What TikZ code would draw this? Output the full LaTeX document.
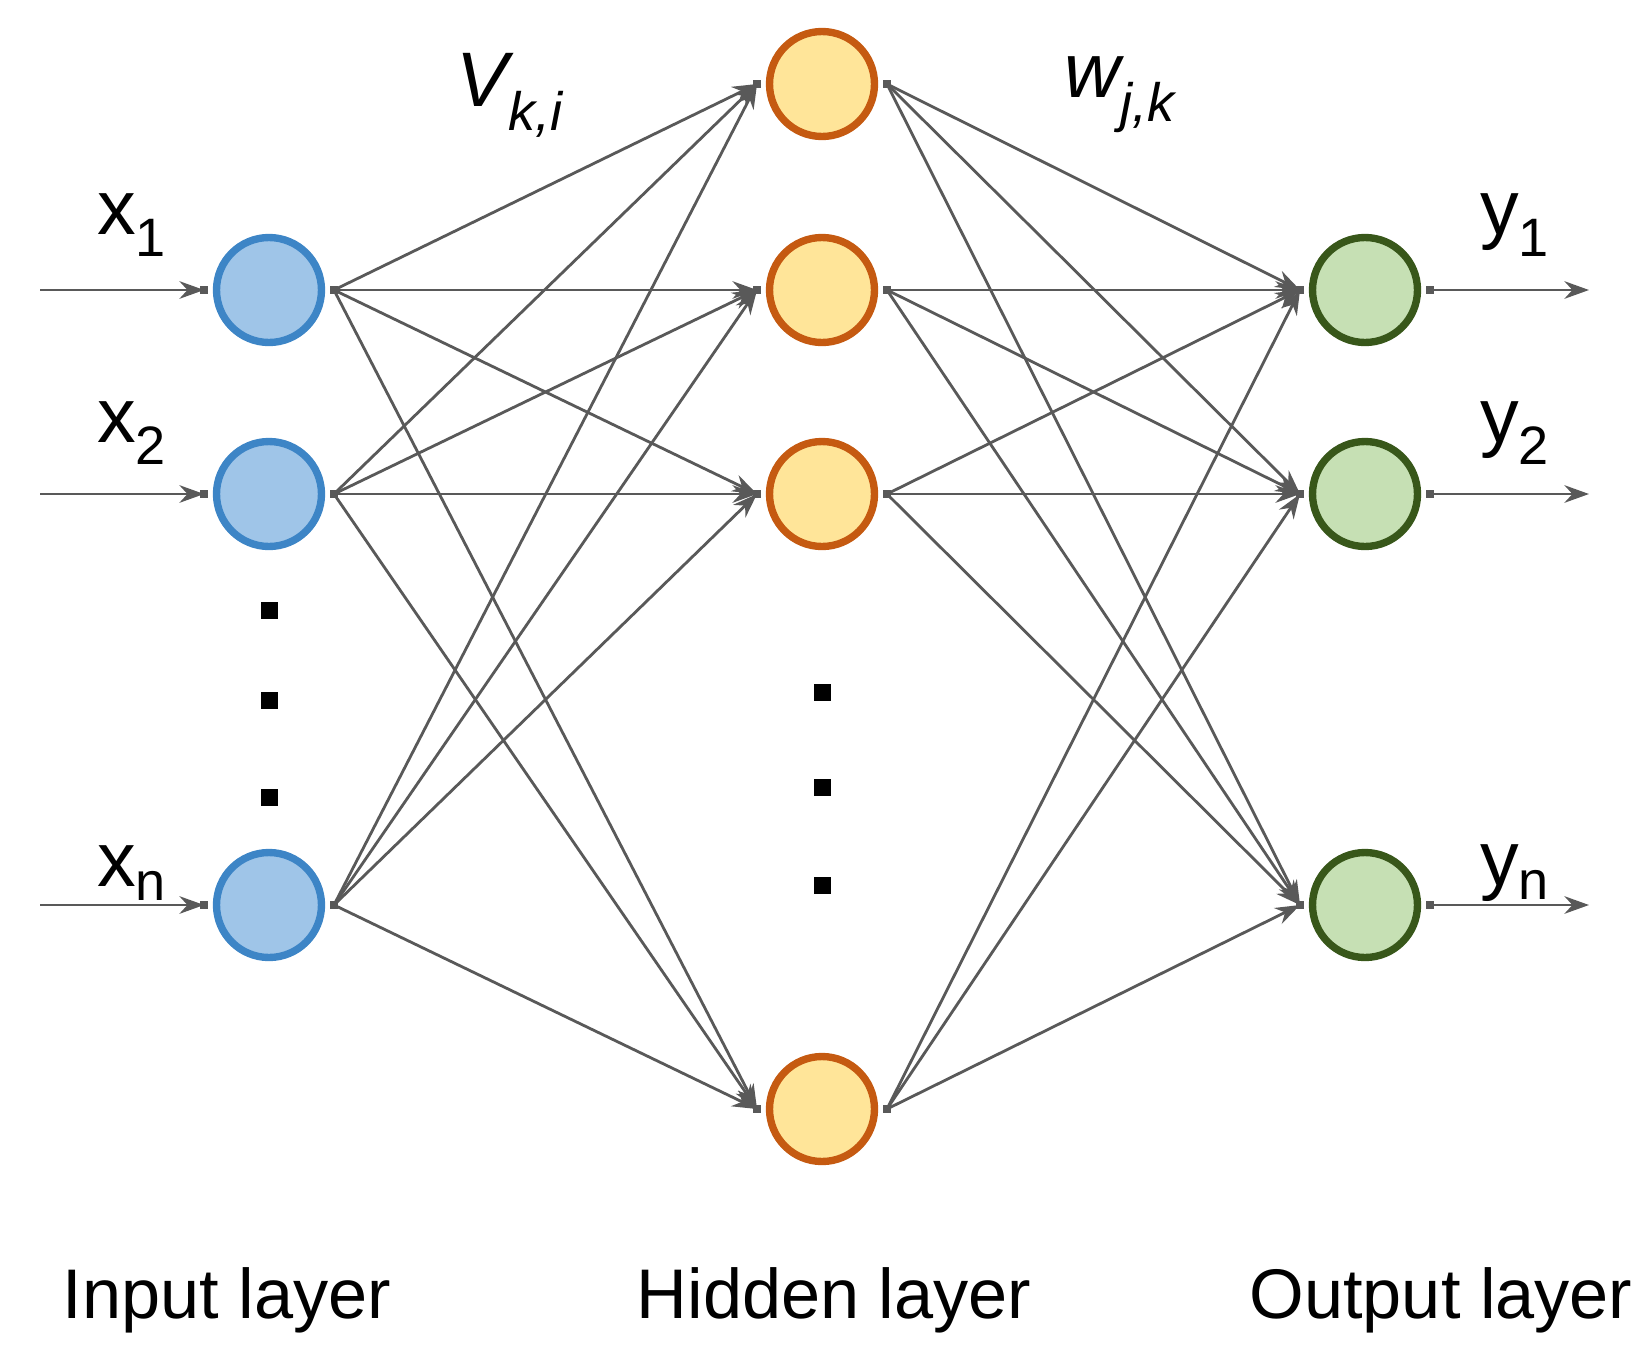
\documentclass[tikz,border=0pt]{standalone}
\usepackage{fontspec}
\setmainfont{Liberation Sans}
\usetikzlibrary{arrows.meta}
\definecolor{inF}{HTML}{9FC5E8}\definecolor{inB}{HTML}{3D85C6}
\definecolor{hiF}{HTML}{FFE599}\definecolor{hiB}{HTML}{C55A11}
\definecolor{ouF}{HTML}{C6E0B4}\definecolor{ouB}{HTML}{38571A}
\definecolor{ln}{HTML}{595959}
\begin{document}
\begin{tikzpicture}[x=0.02cm,y=-0.02cm,
 neu/.style={circle,minimum size=2.1cm,inner sep=0pt,line width=4.2pt},
 inn/.style={neu,fill=inF,draw=inB},
 hid/.style={neu,fill=hiF,draw=hiB},
 outn/.style={neu,fill=ouF,draw=ouB},
 con/.style={draw=ln,line width=1.6pt,-{Stealth[length=14pt,width=10pt]}},
 pin/.style={fill=ln,minimum size=5pt,inner sep=0pt},
 dot/.style={fill=black,minimum size=0.34cm,inner sep=0pt},
 lab/.style={font=\fontsize{44}{50}\selectfont},
 big/.style={font=\fontsize{40}{46}\selectfont}]
\useasboundingbox (0,0) rectangle (1647,1363);
\node[inn] (i1) at (269,290) {};
\node[inn] (i2) at (269,494) {};
\node[inn] (i3) at (269,905) {};
\node[hid] (h1) at (822,84) {};
\node[hid] (h2) at (822,290) {};
\node[hid] (h3) at (822,494) {};
\node[hid] (h4) at (822,1109) {};
\node[outn] (o1) at (1365,290) {};
\node[outn] (o2) at (1365,494) {};
\node[outn] (o3) at (1365,905) {};
\foreach \n in {i1,i2,i3,h1,h2,h3,h4,o1,o2,o3}{
 \node[pin] at ([xshift=-5pt]\n.west) {};
 \node[pin] at ([xshift=5pt]\n.east) {};}
\foreach \a in {i1,i2,i3}\foreach \b in {h1,h2,h3,h4}
 \draw[con] ([xshift=5pt]\a.east) -- ([xshift=-5pt]\b.west);
\foreach \a in {h1,h2,h3,h4}\foreach \b in {o1,o2,o3}
 \draw[con] ([xshift=5pt]\a.east) -- ([xshift=-5pt]\b.west);
\foreach \n/\yy in {1/290,2/494,3/905}{
 \coordinate (s\n) at (40,\yy);
 \coordinate (e\n) at (1589,\yy);
 \draw[con] (s\n) -- ([xshift=-5pt]i\n.west);
 \draw[con] ([xshift=5pt]o\n.east) -- (e\n);}
\node[lab] (lx1) at (132,225) {x\textsubscript{1}};
\node[lab] (lx2) at (132,433) {x\textsubscript{2}};
\node[lab] (lx3) at (132,873) {x\textsubscript{n}};
\node[lab] (ly1) at (1515,225) {y\textsubscript{1}};
\node[lab] (ly2) at (1515,433) {y\textsubscript{2}};
\node[lab] (ly3) at (1515,873) {y\textsubscript{n}};
\node[lab] (lv) at (510,95) {\textit{V\textsubscript{k,i}}};
\node[lab] (lw) at (1120,95) {\textit{w\textsubscript{j,k}}};
\foreach \yy [count=\c] in {610,700,797}{\node[dot] (di\c) at (269,\yy) {};}
\foreach \yy [count=\c] in {692,787,885}{\node[dot] (dh\c) at (822,\yy) {};}
\node[big,anchor=base] (t1) at (227,1318) {Input layer};
\node[big,anchor=base] (t2) at (834,1318) {Hidden layer};
\node[big,anchor=base] (t3) at (1441,1318) {Output layer};
\end{tikzpicture}
\end{document}
